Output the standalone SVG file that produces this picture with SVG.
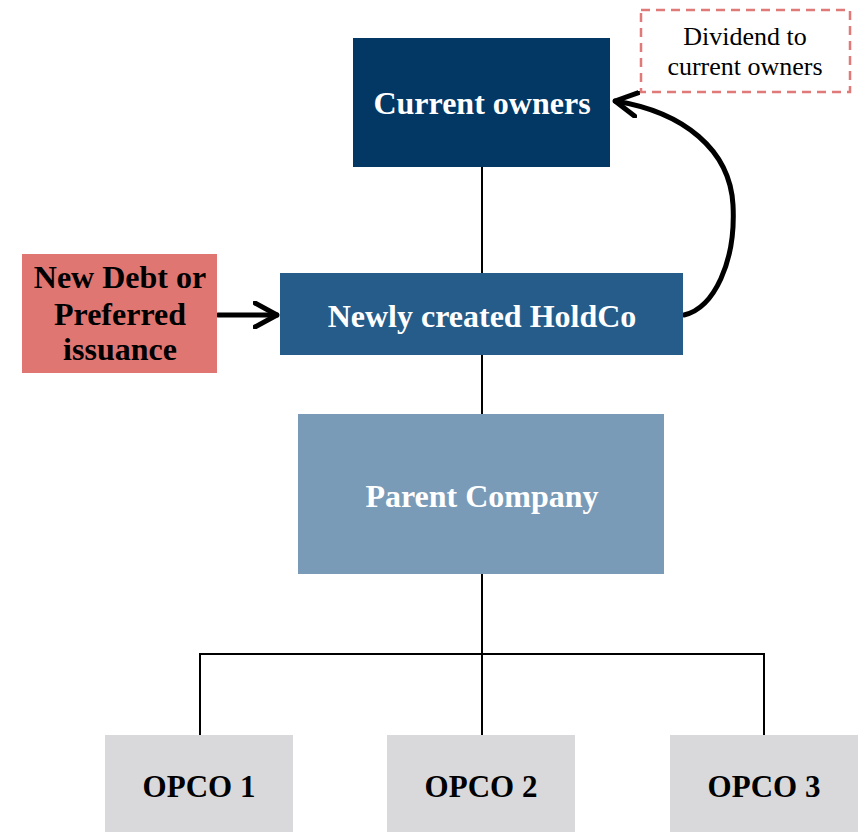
<svg xmlns="http://www.w3.org/2000/svg" width="860" height="832" viewBox="0 0 860 832">
  <defs>
    <style>
      .lbl { font-family: "Liberation Serif", "Times New Roman", serif; font-weight: bold; text-anchor: middle; }
      .w { fill: #ffffff; font-size: 32px; }
      .k { fill: #000000; }
      .line { stroke: #000000; stroke-width: 2; fill: none; }
      .flow { stroke: #000000; stroke-width: 5; fill: none; stroke-linecap: round; }
      .note { font-family: "Liberation Serif", "Times New Roman", serif; font-size: 26px; fill: #000000; text-anchor: middle; }
    </style>
    <marker id="chev" markerUnits="userSpaceOnUse" viewBox="0 0 26 28" refX="24" refY="14" markerWidth="26" markerHeight="28" orient="auto">
      <path d="M2,2 L24,14 L2,26" fill="none" stroke="#000" stroke-width="5" stroke-linecap="round" stroke-linejoin="round"/>
    </marker>
  </defs>
  <rect width="860" height="832" fill="#ffffff"/>

  <g id="connectors">
    <line class="line" x1="482" y1="167" x2="482" y2="273"/>
    <line class="line" x1="482" y1="355" x2="482" y2="414"/>
    <line class="line" x1="482" y1="574" x2="482" y2="735"/>
    <polyline class="line" points="200,735 200,654 764,654 764,735"/>
    <line class="flow" x1="218" y1="315" x2="277" y2="315" marker-end="url(#chev)"/>
    <path class="flow" d="M684,315 C714,308 736,262 733,205 C730,150 684,112 615,101" marker-end="url(#chev)"/>
  </g>

  <g id="current-owners">
    <rect x="353" y="38" width="257" height="129" fill="#033764"/>
    <text class="lbl w" x="482" y="114">Current owners</text>
  </g>

  <g id="dividend-note">
    <rect x="641" y="10" width="209" height="82" fill="none" stroke="#E07A78" stroke-width="2.5" stroke-dasharray="9,6"/>
    <text class="note" x="745" y="45">Dividend to</text>
    <text class="note" x="745" y="75">current owners</text>
  </g>

  <g id="holdco">
    <rect x="280" y="273" width="403" height="82" fill="#255C8A"/>
    <text class="lbl w" x="482" y="327">Newly created HoldCo</text>
  </g>

  <g id="new-debt">
    <rect x="22" y="254" width="195" height="119" fill="#E07672"/>
    <text class="lbl k" font-size="32" x="120" y="288">New Debt or</text>
    <text class="lbl k" font-size="32" x="120" y="325">Preferred</text>
    <text class="lbl k" font-size="32" x="120" y="360">issuance</text>
  </g>

  <g id="parent">
    <rect x="298" y="414" width="366" height="160" fill="#7A9BB8"/>
    <text class="lbl w" x="482" y="507">Parent Company</text>
  </g>

  <g id="opco1">
    <rect x="105" y="735" width="188" height="97" fill="#D9D9DB"/>
    <text class="lbl k" font-size="31" x="199" y="797">OPCO 1</text>
  </g>
  <g id="opco2">
    <rect x="387" y="735" width="188" height="97" fill="#D9D9DB"/>
    <text class="lbl k" font-size="31" x="481" y="797">OPCO 2</text>
  </g>
  <g id="opco3">
    <rect x="670" y="735" width="188" height="97" fill="#D9D9DB"/>
    <text class="lbl k" font-size="31" x="764" y="797">OPCO 3</text>
  </g>
</svg>
